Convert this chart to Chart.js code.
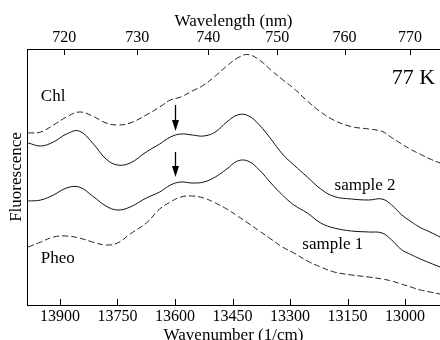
<!DOCTYPE html>
<html>
<head>
<meta charset="utf-8">
<script src="https://cdn.jsdelivr.net/npm/chart.js@4.4.0/dist/chart.umd.min.js"></script>
<style>
  html, body { margin: 0; padding: 0; background: #fff; }
</style>
</head>
<body>
<canvas id="chart" width="440" height="340"></canvas>
<script>
// wavenumber samples (1/cm), shared by all four spectra
const wavenumbers = [13983, 13950, 13917, 13883, 13850, 13815, 13780, 13750, 13717, 13675,
  13640, 13612, 13585, 13555, 13525, 13495, 13465, 13437, 13410, 13380,
  13350, 13320, 13290, 13255, 13220, 13185, 13140, 13095, 13060, 13035,
  13010, 12985, 12960, 12935, 12909];

// fluorescence, arbitrary units (curves are offset vertically)
const chl = [172, 173, 180, 188, 193, 189, 182, 180, 182, 190,
  198, 205, 208, 214, 220, 229, 239, 247, 250.5, 245,
  235, 225.5, 216.5, 204, 193, 184.7, 178.4, 176, 173.6, 167.4,
  161.3, 155.5, 150.7, 146, 142];
const sample2 = [162, 159, 163, 171, 174, 162, 146, 140, 142, 153,
  161, 168, 171, 170, 169, 173, 183, 190, 189.5, 180,
  166, 151, 140, 128, 116, 108.5, 106, 105, 106, 100,
  90.5, 83.5, 77.4, 73, 68];
const sample1 = [104, 105, 110, 117, 118, 109, 99, 95, 98, 107,
  113, 120, 123, 122, 123, 128, 136, 144, 144, 135,
  122, 110, 100, 92, 82, 77, 74, 73, 72, 65,
  55.5, 50.5, 46, 42, 38];
const pheo = [58, 63, 68, 69, 67, 63, 60, 62, 71, 82,
  96, 103, 108, 109, 107, 102, 96, 89, 82, 74,
  66, 58, 52, 44, 38, 33, 30, 28, 26, 24,
  21, 18, 15, 13, 11];

const wavenumberTicks = [13900, 13750, 13600, 13450, 13300, 13150, 13000];
const wavelengthTicks = [720, 730, 740, 750, 760, 770];

// text labels placed in data coordinates
const curveLabels = [
  { text: 'Chl', x: 13950, y: 208 },
  { text: 'Pheo', x: 13950, y: 46.5 },
  { text: 'sample 2', x: 13184, y: 119 },
  { text: 'sample 1', x: 13268, y: 60 }
];
const tempLabel = { text: '77 K', x: 12922, y: 227 };

// arrows marking the 13600 band: from -> to
const arrowMarks = [
  { x: 13600, from: 200, to: 174 },
  { x: 13600, from: 153, to: 128 }
];

const serif = '"Liberation Serif", serif';
Chart.defaults.font.family = serif;
Chart.defaults.color = '#000';

function toPoints(vals) {
  return wavenumbers.map((w, i) => ({ x: w, y: vals[i] }));
}

const extras = {
  id: 'extras',
  afterDraw(chart) {
    const ctx = chart.ctx;
    const xs = chart.scales.x, x2 = chart.scales.x2, ys = chart.scales.y;
    ctx.save();
    ctx.strokeStyle = '#000';
    ctx.fillStyle = '#000';
    ctx.lineWidth = 1;

    // ticks point inward
    xs.ticks.forEach(t => {
      const px = Math.round(xs.getPixelForValue(t.value)) + 0.5;
      ctx.beginPath();
      ctx.moveTo(px, xs.top);
      ctx.lineTo(px, xs.top - 6);
      ctx.stroke();
    });
    x2.ticks.forEach(t => {
      const px = Math.round(x2.getPixelForValue(t.value)) + 0.5;
      ctx.beginPath();
      ctx.moveTo(px, x2.bottom);
      ctx.lineTo(px, x2.bottom + 6);
      ctx.stroke();
    });

    // arrows
    arrowMarks.forEach(a => {
      const px = Math.round(xs.getPixelForValue(a.x)) + 0.5;
      const y0 = ys.getPixelForValue(a.from);
      const y1 = ys.getPixelForValue(a.to);
      ctx.lineWidth = 1.3;
      ctx.beginPath();
      ctx.moveTo(px, y0);
      ctx.lineTo(px, y1 - 9);
      ctx.stroke();
      ctx.beginPath();
      ctx.moveTo(px - 3.5, y1 - 11);
      ctx.lineTo(px + 3.5, y1 - 11);
      ctx.lineTo(px, y1);
      ctx.closePath();
      ctx.fill();
    });

    // labels
    ctx.textBaseline = 'middle';
    ctx.textAlign = 'left';
    ctx.font = '17px ' + serif;
    curveLabels.forEach(l => {
      ctx.fillText(l.text, xs.getPixelForValue(l.x), ys.getPixelForValue(l.y));
    });
    ctx.font = '22px ' + serif;
    ctx.textAlign = 'right';
    ctx.fillText(tempLabel.text, xs.getPixelForValue(tempLabel.x), ys.getPixelForValue(tempLabel.y));
    ctx.restore();
  }
};

const solid = { borderColor: '#111', borderWidth: 1 };
const dashed = { borderColor: '#222', borderWidth: 1, borderDash: [6, 3] };
const tickFont = { family: serif, size: 16 };
const titleFont = { family: serif, size: 17 };

new Chart(document.getElementById('chart'), {
  type: 'line',
  data: {
    datasets: [
      Object.assign({ label: 'Chl', data: toPoints(chl) }, dashed),
      Object.assign({ label: 'sample 2', data: toPoints(sample2) }, solid),
      Object.assign({ label: 'sample 1', data: toPoints(sample1) }, solid),
      Object.assign({ label: 'Pheo', data: toPoints(pheo) }, dashed)
    ]
  },
  options: {
    responsive: false,
    animation: false,
    devicePixelRatio: 1,
    layout: { padding: 0 },
    plugins: { legend: { display: false }, tooltip: { enabled: false } },
    elements: {
      point: { radius: 0 },
      line: { tension: 0.4, fill: false }
    },
    scales: {
      x: {
        type: 'linear',
        position: 'bottom',
        reverse: true,
        min: 12909,
        max: 13986,
        afterBuildTicks: s => { s.ticks = wavenumberTicks.map(v => ({ value: v })); },
        afterFit: s => { s.height = 35; },
        grid: { display: false, drawTicks: false },
        border: { display: true, color: '#000', width: 1 },
        ticks: { padding: 2, font: tickFont, color: '#000', maxRotation: 0, autoSkip: false, callback: v => String(v) },
        title: { display: true, text: 'Wavenumber (1/cm)', font: titleFont, color: '#000', padding: { top: 0, bottom: -6 } }
      },
      x2: {
        type: 'linear',
        position: 'top',
        reverse: true,
        min: 12909,
        max: 13986,
        afterBuildTicks: s => { s.ticks = wavelengthTicks.map(l => ({ value: 1e7 / l })); },
        afterFit: s => { s.height = 49; },
        grid: { display: false, drawTicks: false },
        border: { display: true, color: '#000', width: 1 },
        ticks: { padding: 2, font: tickFont, color: '#000', maxRotation: 0, autoSkip: false, callback: v => String(Math.round(1e7 / v)) },
        title: { display: true, text: 'Wavelength (nm)', font: titleFont, color: '#000', padding: { top: 11, bottom: 0 } }
      },
      y: {
        min: 0,
        max: 256,
        afterFit: s => { s.width = 27; },
        grid: { display: false, drawTicks: false },
        border: { display: true, color: '#000', width: 1 },
        ticks: { display: false },
        title: { display: true, text: 'Fluorescence', font: titleFont, color: '#000', padding: { top: 6, bottom: 0 } }
      }
    }
  },
  plugins: [extras]
});
</script>
</body>
</html>
